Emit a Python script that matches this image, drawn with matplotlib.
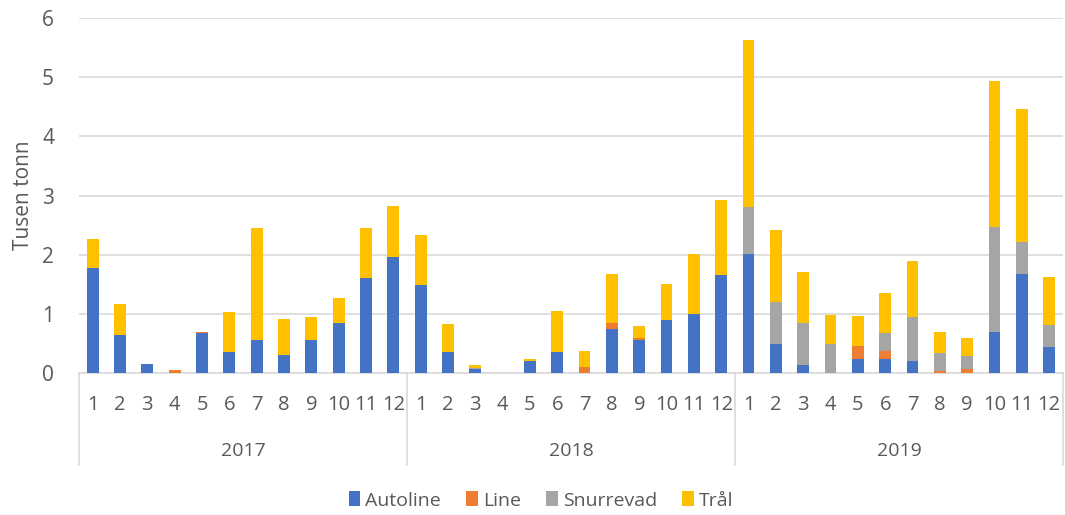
import matplotlib.pyplot as plt
from matplotlib.patches import Patch
import matplotlib.transforms as mtransforms
import numpy as np

years = ["2017", "2018", "2019"]
months = [str(m) for m in range(1, 13)]

# Tusen tonn per month, 2017-2019
autoline = [1.77, 0.64, 0.16, 0.00, 0.67, 0.36, 0.55, 0.31, 0.55, 0.85, 1.61, 1.96,
            1.48, 0.36, 0.07, 0.00, 0.20, 0.36, 0.00, 0.74, 0.55, 0.90, 1.00, 1.65,
            2.02, 0.49, 0.14, 0.00, 0.24, 0.24, 0.20, 0.00, 0.00, 0.70, 1.68, 0.44]
line = [0.00, 0.00, 0.00, 0.05, 0.03, 0.00, 0.00, 0.00, 0.00, 0.00, 0.00, 0.00,
        0.00, 0.00, 0.00, 0.00, 0.00, 0.00, 0.10, 0.11, 0.04, 0.00, 0.00, 0.00,
        0.00, 0.00, 0.00, 0.00, 0.22, 0.13, 0.00, 0.03, 0.07, 0.00, 0.00, 0.00]
snurrevad = [0.00, 0.00, 0.00, 0.00, 0.00, 0.00, 0.00, 0.00, 0.00, 0.00, 0.00, 0.00,
             0.00, 0.00, 0.01, 0.00, 0.00, 0.00, 0.00, 0.00, 0.00, 0.00, 0.00, 0.00,
             0.79, 0.71, 0.71, 0.49, 0.00, 0.31, 0.74, 0.30, 0.22, 1.76, 0.54, 0.37]
traal = [0.49, 0.52, 0.00, 0.00, 0.00, 0.67, 1.90, 0.60, 0.39, 0.41, 0.84, 0.87,
         0.85, 0.47, 0.05, 0.00, 0.03, 0.69, 0.28, 0.83, 0.20, 0.61, 1.02, 1.27,
         2.82, 1.21, 0.85, 0.49, 0.50, 0.67, 0.96, 0.37, 0.30, 2.48, 2.24, 0.82]

series = [("Autoline", autoline, "#4472C4"),
          ("Line", line, "#ED7D31"),
          ("Snurrevad", snurrevad, "#A5A5A5"),
          ("Trål", traal, "#FFC000")]

plt.rcParams["font.family"] = ["Open Sans", "DejaVu Sans"]
txt = "#595959"
grid = "#D9D9D9"

fig = plt.figure(figsize=(10.65, 5.15), dpi=100)
ax = fig.add_axes([0.0742, 0.2757, 0.9238, 0.6893])

x = np.arange(len(autoline))
bottom = np.zeros(len(x))
handles = []
for name, vals, col in series:
    vals = np.array(vals)
    ax.bar(x, vals, 0.43, bottom=bottom, color=col, zorder=3)
    bottom += vals
    handles.append(Patch(facecolor=col, label=name))

ax.set_xlim(-0.5, len(x) - 0.5)
ax.set_ylim(0, 6)
ax.set_yticks(range(0, 7))
ax.tick_params(axis="y", length=0, labelsize=15, labelcolor=txt, pad=18)
ax.grid(axis="y", color=grid, lw=1.2, zorder=0)
for s in ["left", "right", "top"]:
    ax.spines[s].set_visible(False)
ax.spines["bottom"].set_color(grid)
ax.spines["bottom"].set_linewidth(1.2)
ax.set_ylabel("Tusen tonn", fontsize=15, color=txt, labelpad=6)

# two-level category axis
ax.set_xticks([])
trans = mtransforms.blended_transform_factory(ax.transData, ax.transAxes)
for i in x:
    ax.text(i, -0.09, months[i % 12], transform=trans, ha="center", va="center",
            fontsize=14.5, color=txt)
for k, yr in enumerate(years):
    ax.text(k * 12 + 5.5, -0.22, yr, transform=trans, ha="center", va="center",
            fontsize=14, color=txt)
for sep in [-0.5, 11.5, 23.5, 35.5]:
    ax.plot([sep, sep], [0, -0.26], transform=trans, color=grid, lw=1.2, clip_on=False)

fig.legend(handles=handles, loc="center", bbox_to_anchor=(0.508, 0.028), ncol=4,
           frameon=False, fontsize=14, labelcolor=txt, handlelength=0.6,
           handleheight=0.8, handletextpad=0.25, columnspacing=1.3)

fig.savefig("out.png", dpi=100)
